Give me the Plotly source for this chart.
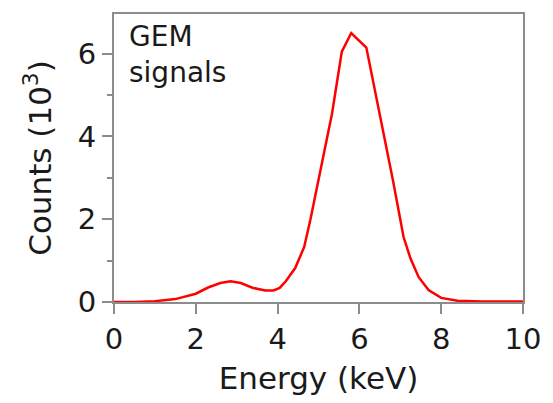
import plotly.graph_objects as go

# GEM pulse-height spectrum
energy_kev = [0, 0.5, 1.0, 1.5, 2.0, 2.3, 2.6, 2.85, 3.1, 3.4, 3.7, 3.9, 4.05, 4.2,
              4.43, 4.65, 4.8, 5.05, 5.33, 5.57, 5.8, 6.17, 6.48, 6.82, 7.08, 7.25,
              7.45, 7.69, 8.0, 8.4, 9.0, 10.0]
counts_k = [0, 0, 0.02, 0.07, 0.2, 0.35, 0.46, 0.5, 0.46, 0.34, 0.28, 0.28, 0.34, 0.5,
            0.82, 1.33, 1.98, 3.18, 4.55, 6.05, 6.5, 6.15, 4.63, 2.94, 1.57, 1.05,
            0.6, 0.29, 0.1, 0.03, 0.01, 0.01]

x_ticks = [0, 2, 4, 6, 8, 10]
y_ticks = [0, 2, 4, 6]

FONT = "DejaVu Sans"
TEXT = "#1a1a1a"
AXIS_GREY = "#8c8c8c"

fig = go.Figure()
fig.add_trace(go.Scatter(
    x=energy_kev, y=counts_k, mode="lines",
    line=dict(color="#ff0000", width=2.5),
    showlegend=False,
))

fig.update_layout(
    width=553, height=403,
    margin=dict(l=114, r=24, t=13, b=101),
    paper_bgcolor="white", plot_bgcolor="white",
    font=dict(family=FONT, size=29, color=TEXT),
    xaxis=dict(
        range=[0, 10], tickvals=x_ticks, ticktext=[str(v) for v in x_ticks],
        tickfont=dict(family=FONT, size=29, color=TEXT),
        ticks="outside", ticklen=10, tickwidth=2, tickcolor=AXIS_GREY,
        showline=True, linecolor=AXIS_GREY, linewidth=2, mirror=True,
        showgrid=False, zeroline=False,
        title=dict(text="Energy (keV)", standoff=13,
                   font=dict(family=FONT, size=31, color=TEXT)),
    ),
    yaxis=dict(
        range=[0, 6.96], tickvals=y_ticks, ticktext=[str(v) for v in y_ticks],
        tickfont=dict(family=FONT, size=29, color=TEXT),
        ticks="outside", ticklen=10, tickwidth=2, tickcolor=AXIS_GREY,
        minor=dict(dtick=1, tick0=0, ticks="outside", ticklen=5, tickwidth=2,
                   tickcolor=AXIS_GREY, showgrid=False),
        showline=True, linecolor=AXIS_GREY, linewidth=2, mirror=True,
        showgrid=False, zeroline=False,
        title=dict(text="Counts (10<sup>3</sup>)", standoff=17,
                   font=dict(family=FONT, size=31, color=TEXT)),
    ),
    annotations=[dict(
        text="GEM<br>signals", xref="paper", yref="paper",
        x=0.033, y=0.985, xanchor="left", yanchor="top",
        showarrow=False, align="left",
        font=dict(family=FONT, size=28, color=TEXT),
    )],
)

fig.write_html("out.html")
